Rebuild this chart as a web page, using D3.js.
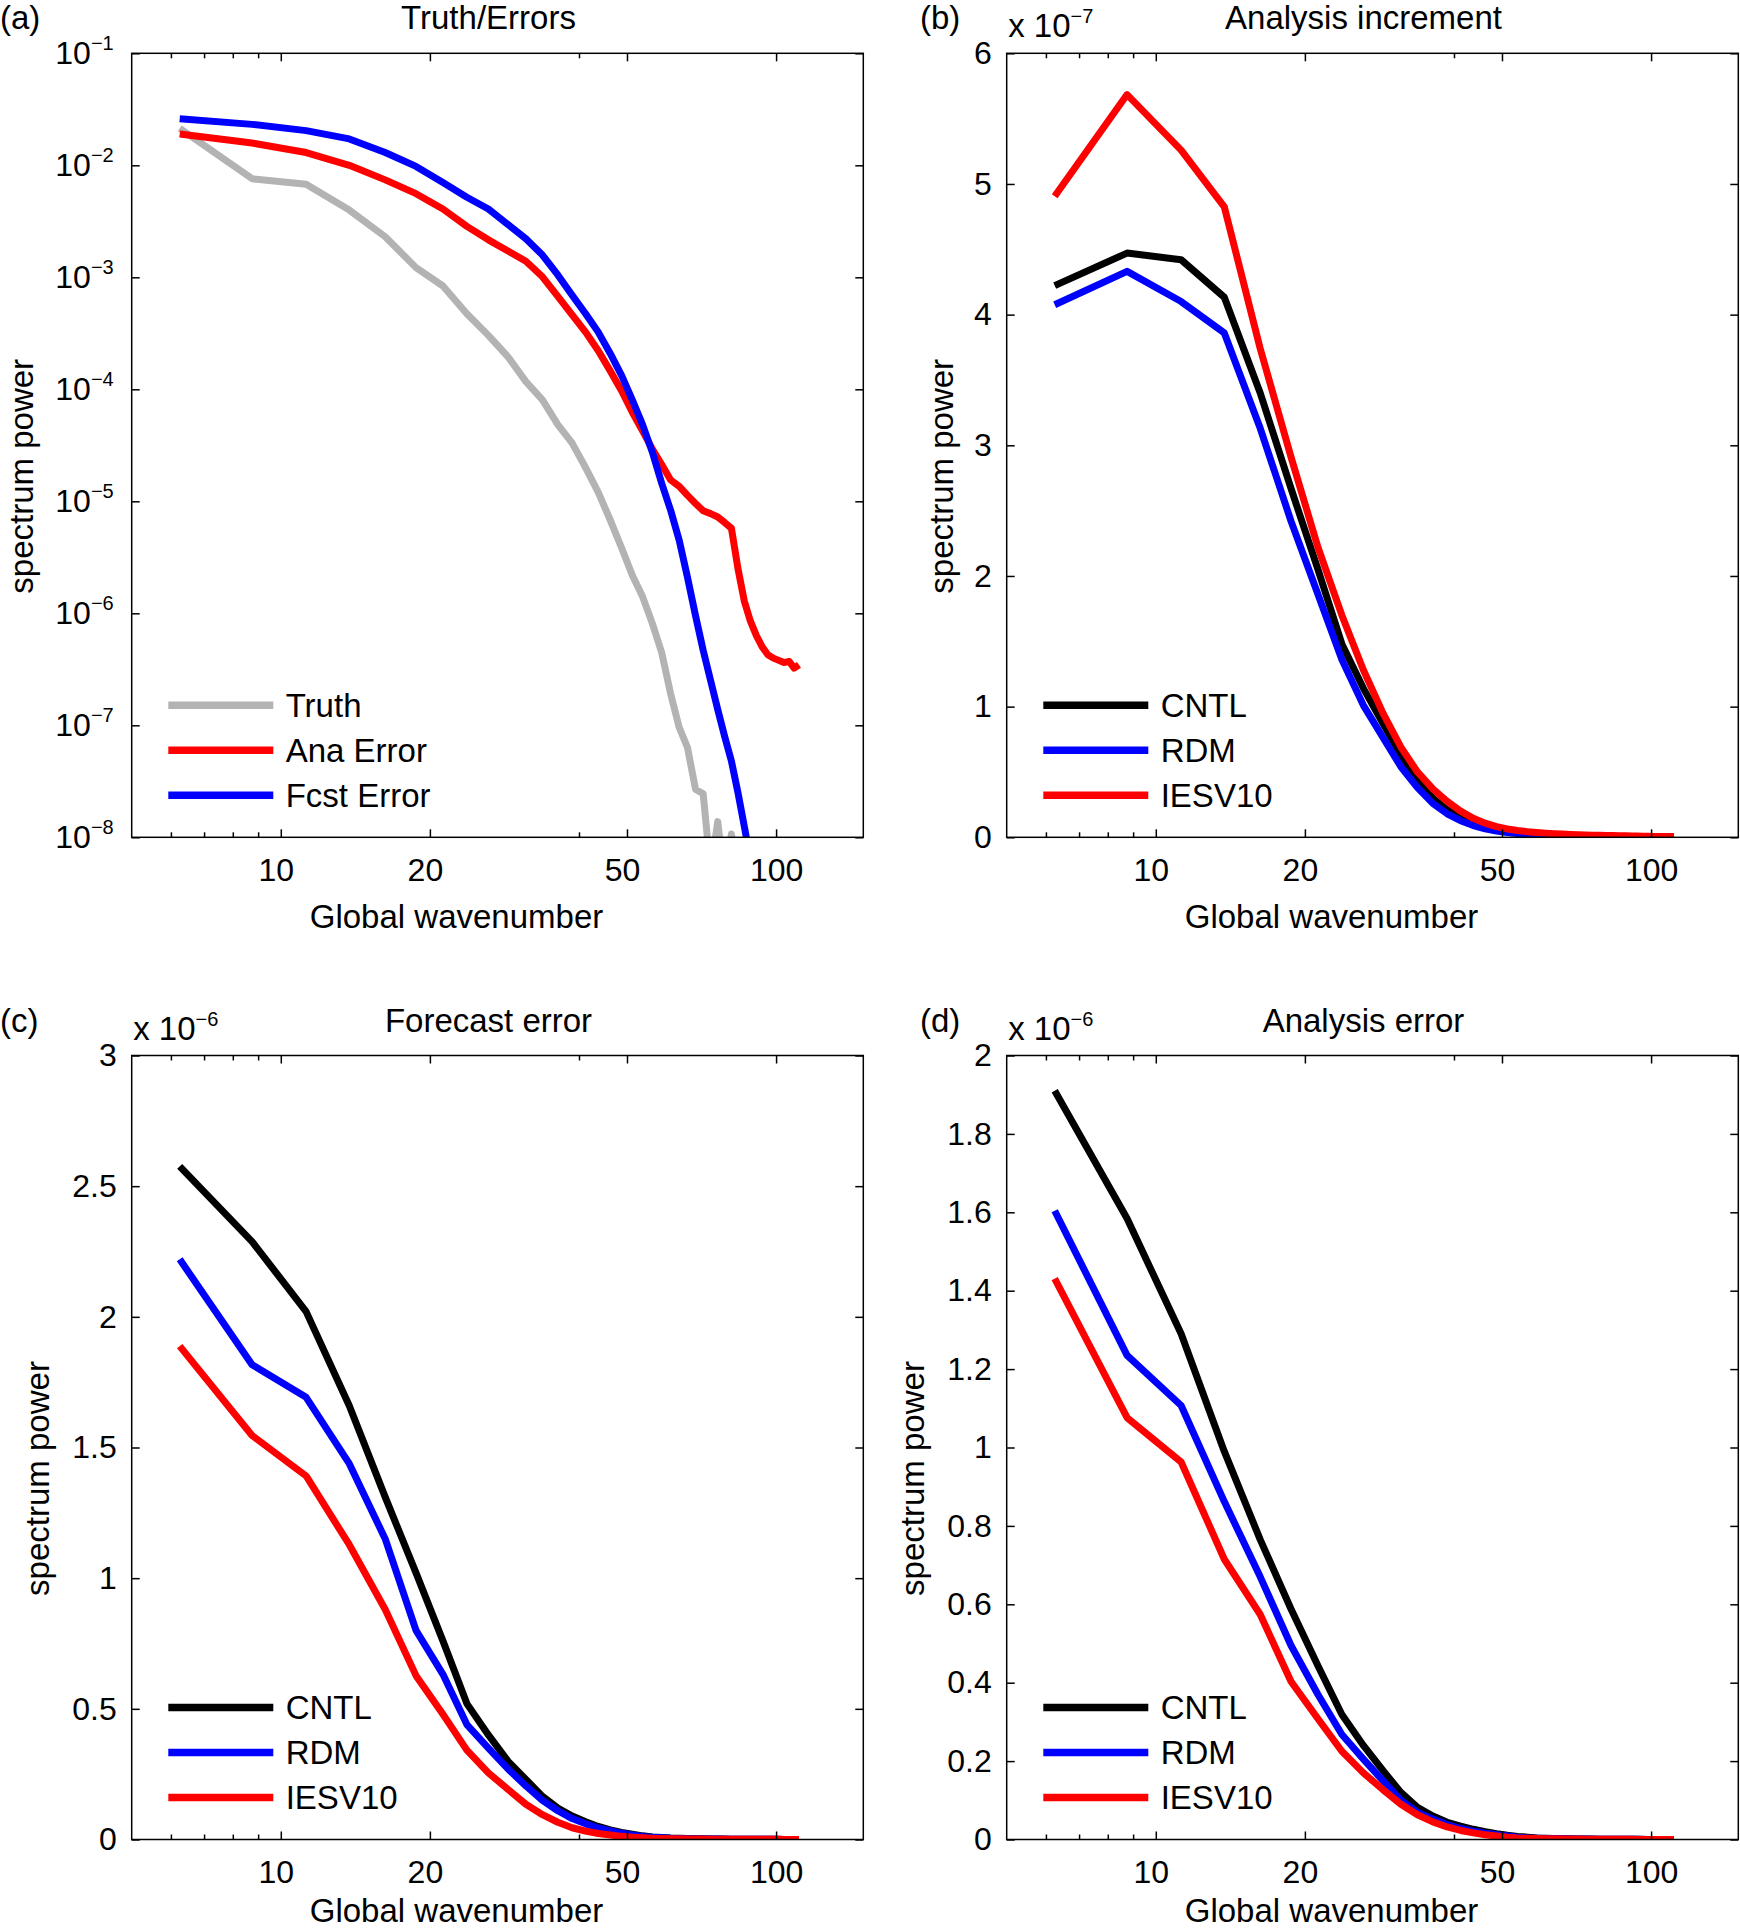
<!DOCTYPE html>
<html><head><meta charset="utf-8">
<script src="https://cdn.jsdelivr.net/npm/d3@7"></script>
<style>
body{margin:0;background:#fff}
svg text{font-family:"Liberation Sans",Arial,Helvetica,sans-serif;fill:#000}
</style>
</head><body>
<svg id="fig" width="1740" height="1930"></svg>
<script>
// ---------------- data ----------------
const wavenumber = [6.25, 8.75, 11.25, 13.75, 16.25, 18.75, 21.25, 23.75, 26.25, 28.75,
  31.25, 33.75, 36.25, 38.75, 41.25, 43.75, 46.25, 48.75, 51.25, 53.75,
  56.25, 58.75, 61.25, 63.75, 66.25, 68.75, 71.25, 73.75, 76.25, 78.75,
  81.25, 83.75, 86.25, 88.75, 91.25, 93.75, 96.25, 98.75, 101.25, 103.75,
  106.25, 108.75, 111.25];

const xMajorTicks = [10, 20, 50, 100];
const xMinorTicks = [6, 7, 8, 9, 40];

// (a) Truth/Errors (log scale)
const truthA = [2.14e-2, 7.59e-3, 6.76e-3, 3.98e-3, 2.30e-3, 1.22e-3, 8.36e-4, 4.73e-4, 3.03e-4, 1.95e-4,
  1.17e-4, 8.04e-5, 4.84e-5, 3.31e-5, 2.0e-5, 1.20e-5, 6.81e-6, 3.85e-6, 2.19e-6, 1.41e-6,
  8.13e-7, 4.47e-7, 1.91e-7, 9.55e-8, 6.31e-8, 2.69e-8, 2.45e-8, 5.01e-9, 1.38e-8, 3.98e-9,
  1.07e-8, 3.98e-9];
const anaErrA = [1.90e-2, 1.58e-2, 1.30e-2, 1.0e-2, 7.41e-3, 5.58e-3, 4.07e-3, 2.85e-3, 2.16e-3, 1.72e-3,
  1.39e-3, 1.01e-3, 6.76e-4, 4.61e-4, 3.24e-4, 2.21e-4, 1.46e-4, 9.70e-5, 6.24e-5, 4.27e-5,
  2.92e-5, 2.13e-5, 1.55e-5, 1.36e-5, 1.13e-5, 9.57e-6, 8.22e-6, 7.76e-6, 7.24e-6, 6.46e-6,
  5.75e-6, 2.51e-6, 1.29e-6, 8.51e-7, 6.31e-7, 5.01e-7, 4.27e-7, 3.98e-7, 3.80e-7, 3.63e-7,
  3.72e-7, 3.24e-7, 3.47e-7];
const fcstErrA = [2.61e-2, 2.32e-2, 2.04e-2, 1.72e-2, 1.30e-2, 9.77e-3, 7.03e-3, 5.19e-3, 4.07e-3, 2.96e-3,
  2.21e-3, 1.58e-3, 1.05e-3, 6.92e-4, 4.73e-4, 3.24e-4, 2.09e-4, 1.33e-4, 8.04e-5, 4.84e-5,
  2.75e-5, 1.45e-5, 8.32e-6, 4.47e-6, 2.09e-6, 9.55e-7, 4.68e-7, 2.51e-7, 1.38e-7, 7.94e-8,
  4.79e-8, 2.51e-8, 1.26e-8, 6.31e-9, 3.16e-9];
const yTicksA = [1e-8, 1e-7, 1e-6, 1e-5, 1e-4, 1e-3, 1e-2, 1e-1];

// (b) Analysis increment (x 1e-7)
const cntlB = [4.222, 4.471, 4.42, 4.133, 3.40, 2.67, 2.05, 1.48, 1.14, 0.87,
  0.63, 0.44, 0.30, 0.21, 0.15, 0.105, 0.075, 0.055, 0.04, 0.03,
  0.023, 0.018, 0.014, 0.011, 0.009, 0.007, 0.006, 0.005, 0.004, 0.0035,
  0.003, 0.0025, 0.002, 0.0018, 0.0015, 0.0013, 0.0011, 0.001, 0.0009, 0.0008,
  0.0007, 0.0006, 0.0005];
const rdmB = [4.076, 4.331, 4.10, 3.86, 3.13, 2.42, 1.86, 1.36, 1.01, 0.765,
  0.54, 0.38, 0.26, 0.18, 0.127, 0.09, 0.065, 0.048, 0.036, 0.028,
  0.022, 0.017, 0.013, 0.01, 0.008, 0.006, 0.005, 0.004, 0.0035, 0.003,
  0.0025, 0.002, 0.0018, 0.0015, 0.0013, 0.0011, 0.001, 0.0009, 0.0008, 0.0007,
  0.0006, 0.0005, 0.0004];
const iesvB = [4.906, 5.684, 5.259, 4.825, 3.74, 2.91, 2.22, 1.70, 1.28, 0.95,
  0.69, 0.50, 0.37, 0.275, 0.2, 0.145, 0.108, 0.082, 0.064, 0.052,
  0.043, 0.037, 0.032, 0.028, 0.025, 0.022, 0.02, 0.018, 0.016, 0.015,
  0.014, 0.013, 0.012, 0.011, 0.010, 0.009, 0.008, 0.008, 0.007, 0.007,
  0.006, 0.006, 0.006];
const yTicksB = [0, 1, 2, 3, 4, 5, 6];

// (c) Forecast error (x 1e-6)
const cntlC = [2.576, 2.288, 2.02, 1.66, 1.31, 1.02, 0.76, 0.52, 0.40, 0.30,
  0.23, 0.165, 0.12, 0.09, 0.068, 0.05, 0.037, 0.027, 0.02, 0.014,
  0.01, 0.008, 0.006, 0.005, 0.004, 0.003, 0.0025, 0.002, 0.0018, 0.0015,
  0.0013, 0.0011, 0.001, 0.0009, 0.0008, 0.0007, 0.0006, 0.0005, 0.0005, 0.0004,
  0.0004, 0.0003, 0.0003];
const rdmC = [2.22, 1.817, 1.692, 1.438, 1.15, 0.80, 0.632, 0.44, 0.35, 0.27,
  0.205, 0.15, 0.11, 0.08, 0.06, 0.044, 0.033, 0.024, 0.017, 0.012,
  0.009, 0.007, 0.005, 0.004, 0.003, 0.0025, 0.002, 0.0018, 0.0015, 0.0013,
  0.0011, 0.001, 0.0009, 0.0008, 0.0007, 0.0006, 0.0005, 0.0005, 0.0004, 0.0004,
  0.0003, 0.0003, 0.0003];
const iesvC = [1.888, 1.546, 1.391, 1.128, 0.88, 0.627, 0.479, 0.342, 0.255, 0.192,
  0.135, 0.095, 0.066, 0.045, 0.032, 0.023, 0.017, 0.012, 0.009, 0.007,
  0.005, 0.004, 0.003, 0.0025, 0.002, 0.0018, 0.0015, 0.0013, 0.0012, 0.0011,
  0.001, 0.0009, 0.0008, 0.0007, 0.0007, 0.0006, 0.0006, 0.0005, 0.0005, 0.0004,
  0.0004, 0.0004, 0.0003];
const yTicksC = [0, 0.5, 1, 1.5, 2, 2.5, 3];

// (d) Analysis error (x 1e-6)
const cntlD = [1.91, 1.584, 1.29, 0.99, 0.765, 0.588, 0.443, 0.319, 0.24, 0.176,
  0.12, 0.082, 0.06, 0.044, 0.034, 0.026, 0.02, 0.015, 0.011, 0.008,
  0.006, 0.004, 0.003, 0.0025, 0.002, 0.0017, 0.0015, 0.0012, 0.001, 0.0009,
  0.0008, 0.0007, 0.0006, 0.0005, 0.0005, 0.0004, 0.0004, 0.0003, 0.0003, 0.0003,
  0.0002, 0.0002, 0.0002];
const rdmD = [1.604, 1.235, 1.107, 0.862, 0.67, 0.495, 0.37, 0.268, 0.205, 0.15,
  0.1, 0.07, 0.052, 0.038, 0.028, 0.021, 0.016, 0.012, 0.009, 0.006,
  0.004, 0.003, 0.0025, 0.002, 0.0017, 0.0015, 0.0012, 0.001, 0.0009, 0.0008,
  0.0007, 0.0006, 0.0005, 0.0005, 0.0004, 0.0004, 0.0003, 0.0003, 0.0003, 0.0002,
  0.0002, 0.0002, 0.0002];
const iesvD = [1.431, 1.076, 0.963, 0.715, 0.574, 0.403, 0.308, 0.225, 0.17, 0.127,
  0.09, 0.063, 0.045, 0.032, 0.023, 0.017, 0.012, 0.009, 0.006, 0.004,
  0.003, 0.0025, 0.002, 0.0017, 0.0015, 0.0012, 0.001, 0.0009, 0.0008, 0.0007,
  0.0006, 0.0005, 0.0005, 0.0004, 0.0004, 0.0003, 0.0003, 0.0003, 0.0002, 0.0002,
  0.0002, 0.0002, 0.0002];
const yTicksD = [0, 0.2, 0.4, 0.6, 0.8, 1, 1.2, 1.4, 1.6, 1.8, 2];

// ---------------- drawing ----------------
const svg = d3.select('#fig');
const W = 731.6, H = 784;
const FONT = '"Liberation Sans",Arial,Helvetica,sans-serif';
const colors = {gray: '#b3b3b3', red: '#ff0000', blue: '#0000ff', black: '#000000'};

const panels = [
  {id: 'a', letter: '(a)', letterX: 0, left: 131.7, top: 53.3, title: 'Truth/Errors', log: true,
   yTicks: yTicksA, ylabelX: 21, labPad: 18, xlabOff: 91,
   series: [{name: 'Truth', data: truthA, color: colors.gray},
            {name: 'Ana Error', data: anaErrA, color: colors.red},
            {name: 'Fcst Error', data: fcstErrA, color: colors.blue}]},
  {id: 'b', letter: '(b)', letterX: 920, left: 1006.7, top: 53.3, title: 'Analysis increment', log: false,
   ymax: 6, yTicks: yTicksB, exp: '\u22127', ylabelX: 941, labPad: 15, xlabOff: 91,
   series: [{name: 'CNTL', data: cntlB, color: colors.black},
            {name: 'RDM', data: rdmB, color: colors.blue},
            {name: 'IESV10', data: iesvB, color: colors.red}]},
  {id: 'c', letter: '(c)', letterX: 0, left: 131.7, top: 1055.5, title: 'Forecast error', log: false,
   ymax: 3, yTicks: yTicksC, exp: '\u22126', ylabelX: 37, labPad: 15, xlabOff: 82,
   series: [{name: 'CNTL', data: cntlC, color: colors.black},
            {name: 'RDM', data: rdmC, color: colors.blue},
            {name: 'IESV10', data: iesvC, color: colors.red}]},
  {id: 'd', letter: '(d)', letterX: 920, left: 1006.7, top: 1055.5, title: 'Analysis error', log: false,
   ymax: 2, yTicks: yTicksD, exp: '\u22126', ylabelX: 912, labPad: 15, xlabOff: 82,
   series: [{name: 'CNTL', data: cntlD, color: colors.black},
            {name: 'RDM', data: rdmD, color: colors.blue},
            {name: 'IESV10', data: iesvD, color: colors.red}]}
];

const fmtLin = d => (d === 0 ? '0' : String(+d.toFixed(1)));

panels.forEach(p => {
  const g = svg.append('g');
  const bottom = p.top + H, right = p.left + W;
  const x = d3.scaleLog().domain([5, 150]).range([p.left, right]);
  const y = p.log
    ? d3.scaleLog().domain([1e-8, 1e-1]).range([bottom, p.top])
    : d3.scaleLinear().domain([0, p.ymax]).range([bottom, p.top]);

  // clip
  svg.append('clipPath').attr('id', 'clip-' + p.id)
    .append('rect').attr('x', p.left).attr('y', p.top).attr('width', W).attr('height', H);

  // lines
  const line = d3.line()
    .x((d, i) => x(wavenumber[i]))
    .y(d => y(d));
  const lg = g.append('g').attr('clip-path', `url(#clip-${p.id})`);
  p.series.forEach(s => {
    lg.append('path').attr('d', line(s.data))
      .attr('fill', 'none').attr('stroke', s.color).attr('stroke-width', 7)
      .attr('stroke-linejoin', 'round').attr('stroke-linecap', 'butt');
  });

  // axes
  const styleAxis = sel => {
    sel.attr('font-size', 32).attr('font-family', FONT);
    sel.selectAll('.domain').remove();
    sel.selectAll('.tick line').attr('stroke', '#000').attr('stroke-width', 1.5);
  };
  const noLab = () => '';
  const xb = g.append('g').attr('transform', `translate(0,${bottom})`)
    .call(d3.axisBottom(x).tickValues(xMajorTicks).tickFormat(d3.format('d'))
      .tickSizeInner(-8).tickSizeOuter(0).tickPadding(21)).call(styleAxis);
  xb.selectAll('.tick text').attr('x', d => (d < 100 ? -5 : 0));
  g.append('g').attr('transform', `translate(0,${bottom})`)
    .call(d3.axisBottom(x).tickValues(xMinorTicks).tickFormat(noLab)
      .tickSizeInner(-5).tickSizeOuter(0)).call(styleAxis);
  g.append('g').attr('transform', `translate(0,${p.top})`)
    .call(d3.axisTop(x).tickValues(xMajorTicks).tickFormat(noLab)
      .tickSizeInner(-8).tickSizeOuter(0)).call(styleAxis);
  g.append('g').attr('transform', `translate(0,${p.top})`)
    .call(d3.axisTop(x).tickValues(xMinorTicks).tickFormat(noLab)
      .tickSizeInner(-5).tickSizeOuter(0)).call(styleAxis);

  const yl = g.append('g').attr('transform', `translate(${p.left},0)`)
    .call(d3.axisLeft(y).tickValues(p.yTicks).tickFormat(p.log ? noLab : fmtLin)
      .tickSizeInner(-8).tickSizeOuter(0).tickPadding(p.labPad)).call(styleAxis);
  g.append('g').attr('transform', `translate(${right},0)`)
    .call(d3.axisRight(y).tickValues(p.yTicks).tickFormat(noLab)
      .tickSizeInner(-8).tickSizeOuter(0)).call(styleAxis);

  if (p.log) {
    yl.selectAll('.tick text').each(function(d) {
      const t = d3.select(this);
      t.text(null);
      t.append('tspan').text('10');
      t.append('tspan').attr('font-size', 20).attr('dy', -14)
        .text('\u2212' + Math.round(-Math.log10(d)));
    });
  }

  // box
  g.append('rect').attr('x', p.left).attr('y', p.top).attr('width', W).attr('height', H)
    .attr('fill', 'none').attr('stroke', '#000').attr('stroke-width', 1.5);

  // multiplier
  if (p.exp) {
    const mt = g.append('text').attr('x', p.left + 1.5).attr('y', p.top - 16)
      .attr('font-size', 33);
    mt.append('tspan').text('x 10');
    mt.append('tspan').attr('font-size', 20).attr('dy', -14).text(p.exp);
  }

  // title and panel letter
  g.append('text').attr('x', p.left + W / 2 - 9).attr('y', p.top - 24)
    .attr('text-anchor', 'middle').attr('font-size', 33).text(p.title);
  g.append('text').attr('x', p.letterX).attr('y', p.top - 24)
    .attr('font-size', 33).text(p.letter);

  // axis labels
  g.append('text').attr('x', p.left + W / 2 - 41).attr('y', bottom + p.xlabOff)
    .attr('text-anchor', 'middle').attr('font-size', 33).text('Global wavenumber');
  g.append('text')
    .attr('transform', `translate(${p.ylabelX},${p.top + H / 2 + 31}) rotate(-90)`)
    .attr('text-anchor', 'middle').attr('dy', '0.35em').attr('font-size', 33)
    .text('spectrum power');

  // legend
  const legOff = [132, 87, 42];
  p.series.forEach((s, i) => {
    const ly = bottom - legOff[i];
    g.append('line').attr('x1', p.left + 36.6).attr('x2', p.left + 141.6)
      .attr('y1', ly).attr('y2', ly).attr('stroke', s.color).attr('stroke-width', 7.5);
    g.append('text').attr('x', p.left + 154).attr('y', ly).attr('dy', '0.36em')
      .attr('font-size', 33).text(s.name);
  });
});
</script>
</body></html>
